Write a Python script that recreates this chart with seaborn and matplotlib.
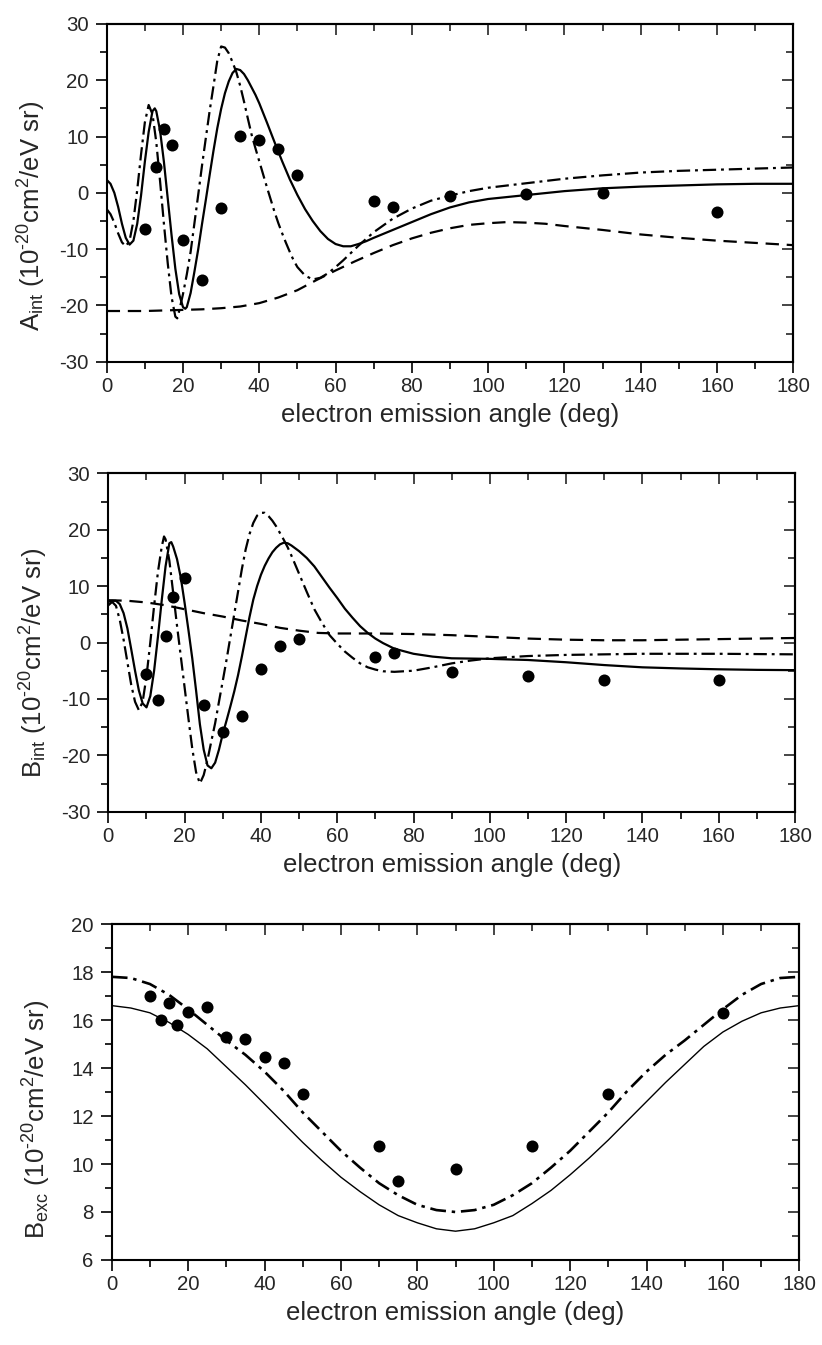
"""
Angular distributions: A_int, B_int, B_exc vs electron emission angle
three stacked panels, experiment (dots) + three theory curves
"""

import matplotlib
matplotlib.use("Agg")
import matplotlib.pyplot as plt
from matplotlib.ticker import MultipleLocator
import seaborn as sns

# ── data ─────────────────────────────────────────────────────
EXP_ANGLE = [10, 13, 15, 17, 20, 25, 30, 35, 40, 45, 50, 70, 75, 90, 110, 130, 160]

A_EXP = [-6.4, 4.6, 11.3, 8.5, -8.4, -15.5, -2.75, 10.1, 9.4, 7.7, 3.2,
         -1.5, -2.5, -0.5, -0.2, 0.0, -3.4]
B_EXP = [-5.6, -10.2, 1.15, 8.0, 11.5, -11.0, -15.9, -13.0, -4.7, -0.7, 0.6,
         -2.5, -1.8, -5.3, -5.9, -6.6, -6.6]
C_EXP = [17.0, 16.0, 16.7, 15.8, 16.35, 16.55, 15.3, 15.2, 14.45, 14.2, 12.9,
         10.75, 9.3, 9.8, 10.75, 12.9, 16.3]

# A_int, solid
A_SOLID_X = [0, 1, 2, 3, 4, 5, 6, 7, 8, 9, 10, 11, 12, 12.6, 13, 14, 15, 16, 17, 18,
             19, 20, 20.6, 21, 22, 23, 24, 25, 26, 27, 28, 29, 30, 31, 32, 33, 34, 35,
             36, 37, 38, 39, 40, 42, 44, 46, 48, 50, 52, 54, 56, 58, 60, 62, 64, 66,
             68, 70, 75, 80, 85, 90, 95, 100, 110, 120, 130, 140, 150, 160, 170, 180]
A_SOLID_Y = [2.3, 1.6, 0.0, -2.5, -5.5, -8.0, -9.2, -8.5, -5.5, -0.5, 5.5, 10.8, 14.5,
             15.0, 14.5, 11.0, 5.5, -1.0, -7.5, -13.5, -18.0, -20.3, -20.6, -20.3,
             -17.8, -14.0, -10.0, -5.5, -1.2, 3.2, 7.5, 11.5, 14.9, 17.7, 19.8, 21.3,
             22.0, 21.8, 21.1, 20.0, 18.7, 17.4, 15.9, 12.5, 9.0, 5.6, 2.4, -0.4, -2.9,
             -5.0, -6.8, -8.2, -9.1, -9.5, -9.5, -9.1, -8.6, -8.0, -6.6, -5.2, -3.8,
             -2.6, -1.7, -1.1, -0.4, 0.3, 0.8, 1.1, 1.3, 1.5, 1.6, 1.6]

# A_int, dash-dot
A_DDOT_X = [0, 1, 2, 3, 4, 5, 6, 7, 8, 9, 10, 11, 12, 13, 14, 15, 16, 17, 18, 18.5,
            19, 20, 21, 22, 23, 24, 25, 26, 27, 28, 29, 30, 31, 32, 33, 34, 35, 36,
            37, 38, 39, 40, 41, 42, 43, 44, 45, 46, 47, 48, 49, 50, 52, 54, 56, 58,
            60, 62, 64, 66, 68, 70, 75, 80, 85, 90, 95, 100, 110, 120, 130, 140, 150,
            160, 170, 180]
A_DDOT_Y = [-2.9, -3.8, -5.3, -7.2, -8.8, -9.5, -8.5, -5.0, 0.5, 6.8, 12.5, 15.6, 14.0,
            9.0, 2.0, -5.5, -12.5, -18.5, -22.0, -22.3, -21.0, -18.0, -14.5, -10.5,
            -5.4, -0.3, 4.9, 9.8, 14.6, 19.0, 23.5, 26.0, 25.8, 24.8, 23.2, 21.4, 19.0,
            16.2, 13.2, 10.3, 7.9, 5.6, 3.3, 1.0, -1.2, -3.4, -5.4, -7.2, -8.9, -10.5,
            -12.0, -13.2, -14.7, -15.4, -15.1, -14.3, -13.2, -12.0, -10.7, -9.4, -8.2,
            -7.0, -4.6, -2.8, -1.4, -0.5, 0.3, 0.9, 1.7, 2.5, 3.1, 3.6, 3.9, 4.1, 4.3,
            4.5]

# A_int, dashed
A_DASH_X = [0, 10, 15, 20, 25, 30, 35, 40, 45, 50, 55, 60, 65, 70, 75, 80, 85, 90, 95,
            100, 105, 110, 115, 120, 130, 140, 150, 160, 170, 180]
A_DASH_Y = [-21.0, -21.0, -20.9, -20.8, -20.7, -20.5, -20.2, -19.6, -18.6, -17.3,
            -15.5, -13.8, -12.2, -10.7, -9.3, -8.1, -7.1, -6.3, -5.7, -5.4, -5.2,
            -5.3, -5.5, -5.9, -6.6, -7.4, -8.0, -8.5, -8.9, -9.3]

# B_int, solid
B_SOLID_X = [0, 1, 2, 3, 4, 5, 6, 7, 8, 9, 10, 11, 12, 13, 14, 15, 16, 16.5, 17, 18,
             19, 20, 21, 22, 23, 24, 25, 26, 27, 28, 29, 30, 31, 32, 33, 34, 35, 36,
             37, 38, 39, 40, 41, 42, 43, 44, 45, 46, 47, 48, 50, 52, 54, 56, 58, 60,
             62, 64, 66, 68, 70, 72, 75, 80, 85, 90, 100, 110, 120, 130, 140, 150,
             160, 170, 180]
B_SOLID_Y = [7.2, 7.4, 7.4, 6.8, 5.2, 2.5, -1.2, -5.0, -8.5, -10.8, -11.5, -9.5, -5.0,
             1.0, 7.5, 13.5, 17.6, 17.8, 17.0, 14.8, 11.5, 7.0, 2.2, -2.8, -8.5, -14.5,
             -19.0, -21.8, -22.3, -21.3, -19.0, -16.2, -13.8, -11.3, -8.7, -5.8, -2.5,
             1.0, 4.5, 7.6, 10.0, 12.0, 13.6, 14.9, 16.0, 16.8, 17.4, 17.7, 17.6, 17.2,
             16.2, 15.0, 13.5, 11.6, 9.7, 7.9, 6.0, 4.4, 2.9, 1.7, 0.7, -0.1, -1.1,
             -2.0, -2.5, -2.8, -2.9, -3.1, -3.5, -4.0, -4.4, -4.6, -4.75, -4.85, -4.9]

# B_int, dash-dot
B_DDOT_X = [0, 1, 2, 3, 4, 5, 6, 7, 8, 9, 10, 11, 12, 13, 14, 14.6, 15, 16, 17, 18,
            19, 20, 21, 22, 23, 24, 25, 26, 27, 28, 29, 30, 31, 32, 33, 34, 35, 36,
            37, 38, 39, 40, 41, 42, 43, 44, 45, 46, 47, 48, 50, 52, 54, 56, 58, 60,
            62, 64, 66, 68, 70, 72, 75, 80, 85, 90, 95, 100, 110, 120, 140, 160, 180]
B_DDOT_Y = [6.6, 7.2, 6.5, 4.0, 0.5, -3.5, -7.5, -10.5, -12.0, -10.5, -6.0, 0.0, 6.5,
            12.5, 17.0, 18.8, 18.3, 14.5, 8.8, 3.0, -2.5, -8.0, -13.5, -18.8, -23.0,
            -25.0, -23.5, -20.8, -17.5, -14.3, -10.5, -6.8, -3.0, 1.0, 5.0, 9.0, 13.0,
            16.5, 19.2, 21.2, 22.5, 23.0, 23.0, 22.4, 21.6, 20.6, 19.4, 18.2, 16.9,
            15.4, 12.2, 9.0, 5.9, 3.5, 1.3, -0.2, -1.6, -2.7, -3.7, -4.4, -4.8, -5.1,
            -5.2, -5.0, -4.4, -3.7, -3.2, -2.8, -2.4, -2.2, -2.0, -2.0, -2.1]

# B_int, dashed
B_DASH_X = [0, 5, 10, 15, 20, 25, 30, 35, 40, 45, 50, 55, 60, 70, 80, 90, 100, 110,
            120, 130, 140, 150, 160, 170, 180]
B_DASH_Y = [7.5, 7.4, 7.1, 6.6, 5.9, 5.2, 4.6, 3.9, 3.3, 2.6, 2.1, 1.7, 1.6, 1.6, 1.5,
            1.3, 1.0, 0.7, 0.5, 0.4, 0.4, 0.5, 0.6, 0.7, 0.8]

# B_exc, solid and dash-dot (step 5 deg)
C_X = [0, 5, 10, 15, 20, 25, 30, 35, 40, 45, 50, 55, 60, 65, 70, 75, 80, 85, 90, 95,
       100, 105, 110, 115, 120, 125, 130, 135, 140, 145, 150, 155, 160, 165, 170, 175,
       180]
C_SOLID_Y = [16.6, 16.5, 16.3, 15.9, 15.4, 14.8, 14.05, 13.3, 12.5, 11.7, 10.9, 10.15,
             9.45, 8.85, 8.3, 7.85, 7.55, 7.3, 7.2, 7.3, 7.55, 7.85, 8.35, 8.9, 9.55,
             10.25, 11.0, 11.8, 12.6, 13.4, 14.15, 14.9, 15.5, 15.95, 16.3, 16.5, 16.6]
C_DDOT_Y = [17.8, 17.75, 17.5, 17.05, 16.45, 15.8, 15.15, 14.55, 13.85, 13.05, 12.15,
            11.35, 10.55, 9.85, 9.2, 8.7, 8.3, 8.08, 8.0, 8.08, 8.3, 8.7, 9.2, 9.85,
            10.55, 11.35, 12.15, 13.05, 13.85, 14.55, 15.15, 15.8, 16.45, 17.05, 17.5,
            17.75, 17.8]

XLABEL = "electron emission angle (deg)"
YLABELS = [
    r"A$_{\mathrm{int}}$ (10$^{\text{-20}}$cm$^{\mathrm{2}}$/eV sr)",
    r"B$_{\mathrm{int}}$ (10$^{\text{-20}}$cm$^{\mathrm{2}}$/eV sr)",
    r"B$_{\mathrm{exc}}$ (10$^{\text{-20}}$cm$^{\mathrm{2}}$/eV sr)",
]

# ── style ────────────────────────────────────────────────────
sns.set_style("ticks")
plt.rcParams["font.family"] = ["Liberation Sans", "DejaVu Sans"]
plt.rcParams.update({
    "mathtext.fontset": "custom",
    "mathtext.rm": "Liberation Sans",
    "mathtext.it": "Liberation Sans:italic",
    "mathtext.bf": "Liberation Sans:bold",
    "axes.unicode_minus": False,
})

DASH = (0, (6, 3.5))
DASHDOT = (0, (6, 2.2, 1.3, 2.2))
TICK_FS = 14.7
LABEL_FS = 18.5


def style_axes(ax, ylim, ymajor, yminor):
    ax.set_xlim(0, 180)
    ax.set_ylim(*ylim)
    ax.xaxis.set_major_locator(MultipleLocator(20))
    ax.xaxis.set_minor_locator(MultipleLocator(10))
    ax.yaxis.set_major_locator(MultipleLocator(ymajor))
    ax.yaxis.set_minor_locator(MultipleLocator(yminor))
    for sp in ax.spines.values():
        sp.set_visible(True)
        sp.set_linewidth(1.5)
        sp.set_color("black")
    ax.tick_params(which="both", direction="out", width=1.2, color="black",
                   labelsize=TICK_FS, top=False, right=False)
    ax.tick_params(which="major", length=8, pad=3)
    ax.tick_params(which="minor", length=5)
    ax.tick_params(axis="y", which="major", pad=5)

    # mirrored ticks pointing inward on top / right
    top = ax.secondary_xaxis("top")
    top.xaxis.set_major_locator(MultipleLocator(20))
    top.xaxis.set_minor_locator(MultipleLocator(10))
    top.tick_params(which="both", direction="in", width=1.2, labeltop=False)
    top.tick_params(which="major", length=8)
    top.tick_params(which="minor", length=5)
    right = ax.secondary_yaxis("right")
    right.yaxis.set_major_locator(MultipleLocator(ymajor))
    right.yaxis.set_minor_locator(MultipleLocator(yminor))
    right.tick_params(which="both", direction="in", width=1.2, labelright=False)
    right.tick_params(which="major", length=8)
    right.tick_params(which="minor", length=5)
    for sec in (top, right):
        for sp in sec.spines.values():
            sp.set_linewidth(1.5)


def line(ax, x, y, ls, lw):
    sns.lineplot(x=x, y=y, ax=ax, color="black", linestyle=ls, linewidth=lw,
                 estimator=None, sort=False)


def points(ax, y):
    sns.scatterplot(x=EXP_ANGLE, y=y, ax=ax, color="black", s=75, linewidth=0,
                    zorder=5)


fig = plt.figure(figsize=(8.22, 13.45), dpi=100)
ax1 = fig.add_axes([0.1298, 0.7311, 0.8353, 0.2511])
ax2 = fig.add_axes([0.1318, 0.3965, 0.8353, 0.2516])
ax3 = fig.add_axes([0.1359, 0.0632, 0.8365, 0.2498])

# panel 1: A_int
line(ax1, A_DASH_X, A_DASH_Y, DASH, 1.6)
line(ax1, A_DDOT_X, A_DDOT_Y, DASHDOT, 1.6)
line(ax1, A_SOLID_X, A_SOLID_Y, "-", 1.6)
points(ax1, A_EXP)
style_axes(ax1, (-30, 30), 10, 5)

# panel 2: B_int
line(ax2, B_DASH_X, B_DASH_Y, DASH, 1.6)
line(ax2, B_DDOT_X, B_DDOT_Y, DASHDOT, 1.6)
line(ax2, B_SOLID_X, B_SOLID_Y, "-", 1.6)
points(ax2, B_EXP)
style_axes(ax2, (-30, 30), 10, 5)

# panel 3: B_exc
line(ax3, C_X, C_DDOT_Y, DASHDOT, 1.9)
line(ax3, C_X, C_SOLID_Y, "-", 1.0)
points(ax3, C_EXP)
style_axes(ax3, (6, 20), 2, 1)

for ax, lab, ly in zip([ax1, ax2, ax3], YLABELS, [0.431, 0.44, 0.417]):
    ax.set_xlabel(XLABEL, fontsize=LABEL_FS, labelpad=5)
    ax.set_ylabel(lab, fontsize=LABEL_FS)
    ax.yaxis.set_label_coords(-0.085, ly)

fig.savefig("out.png", dpi=100)
